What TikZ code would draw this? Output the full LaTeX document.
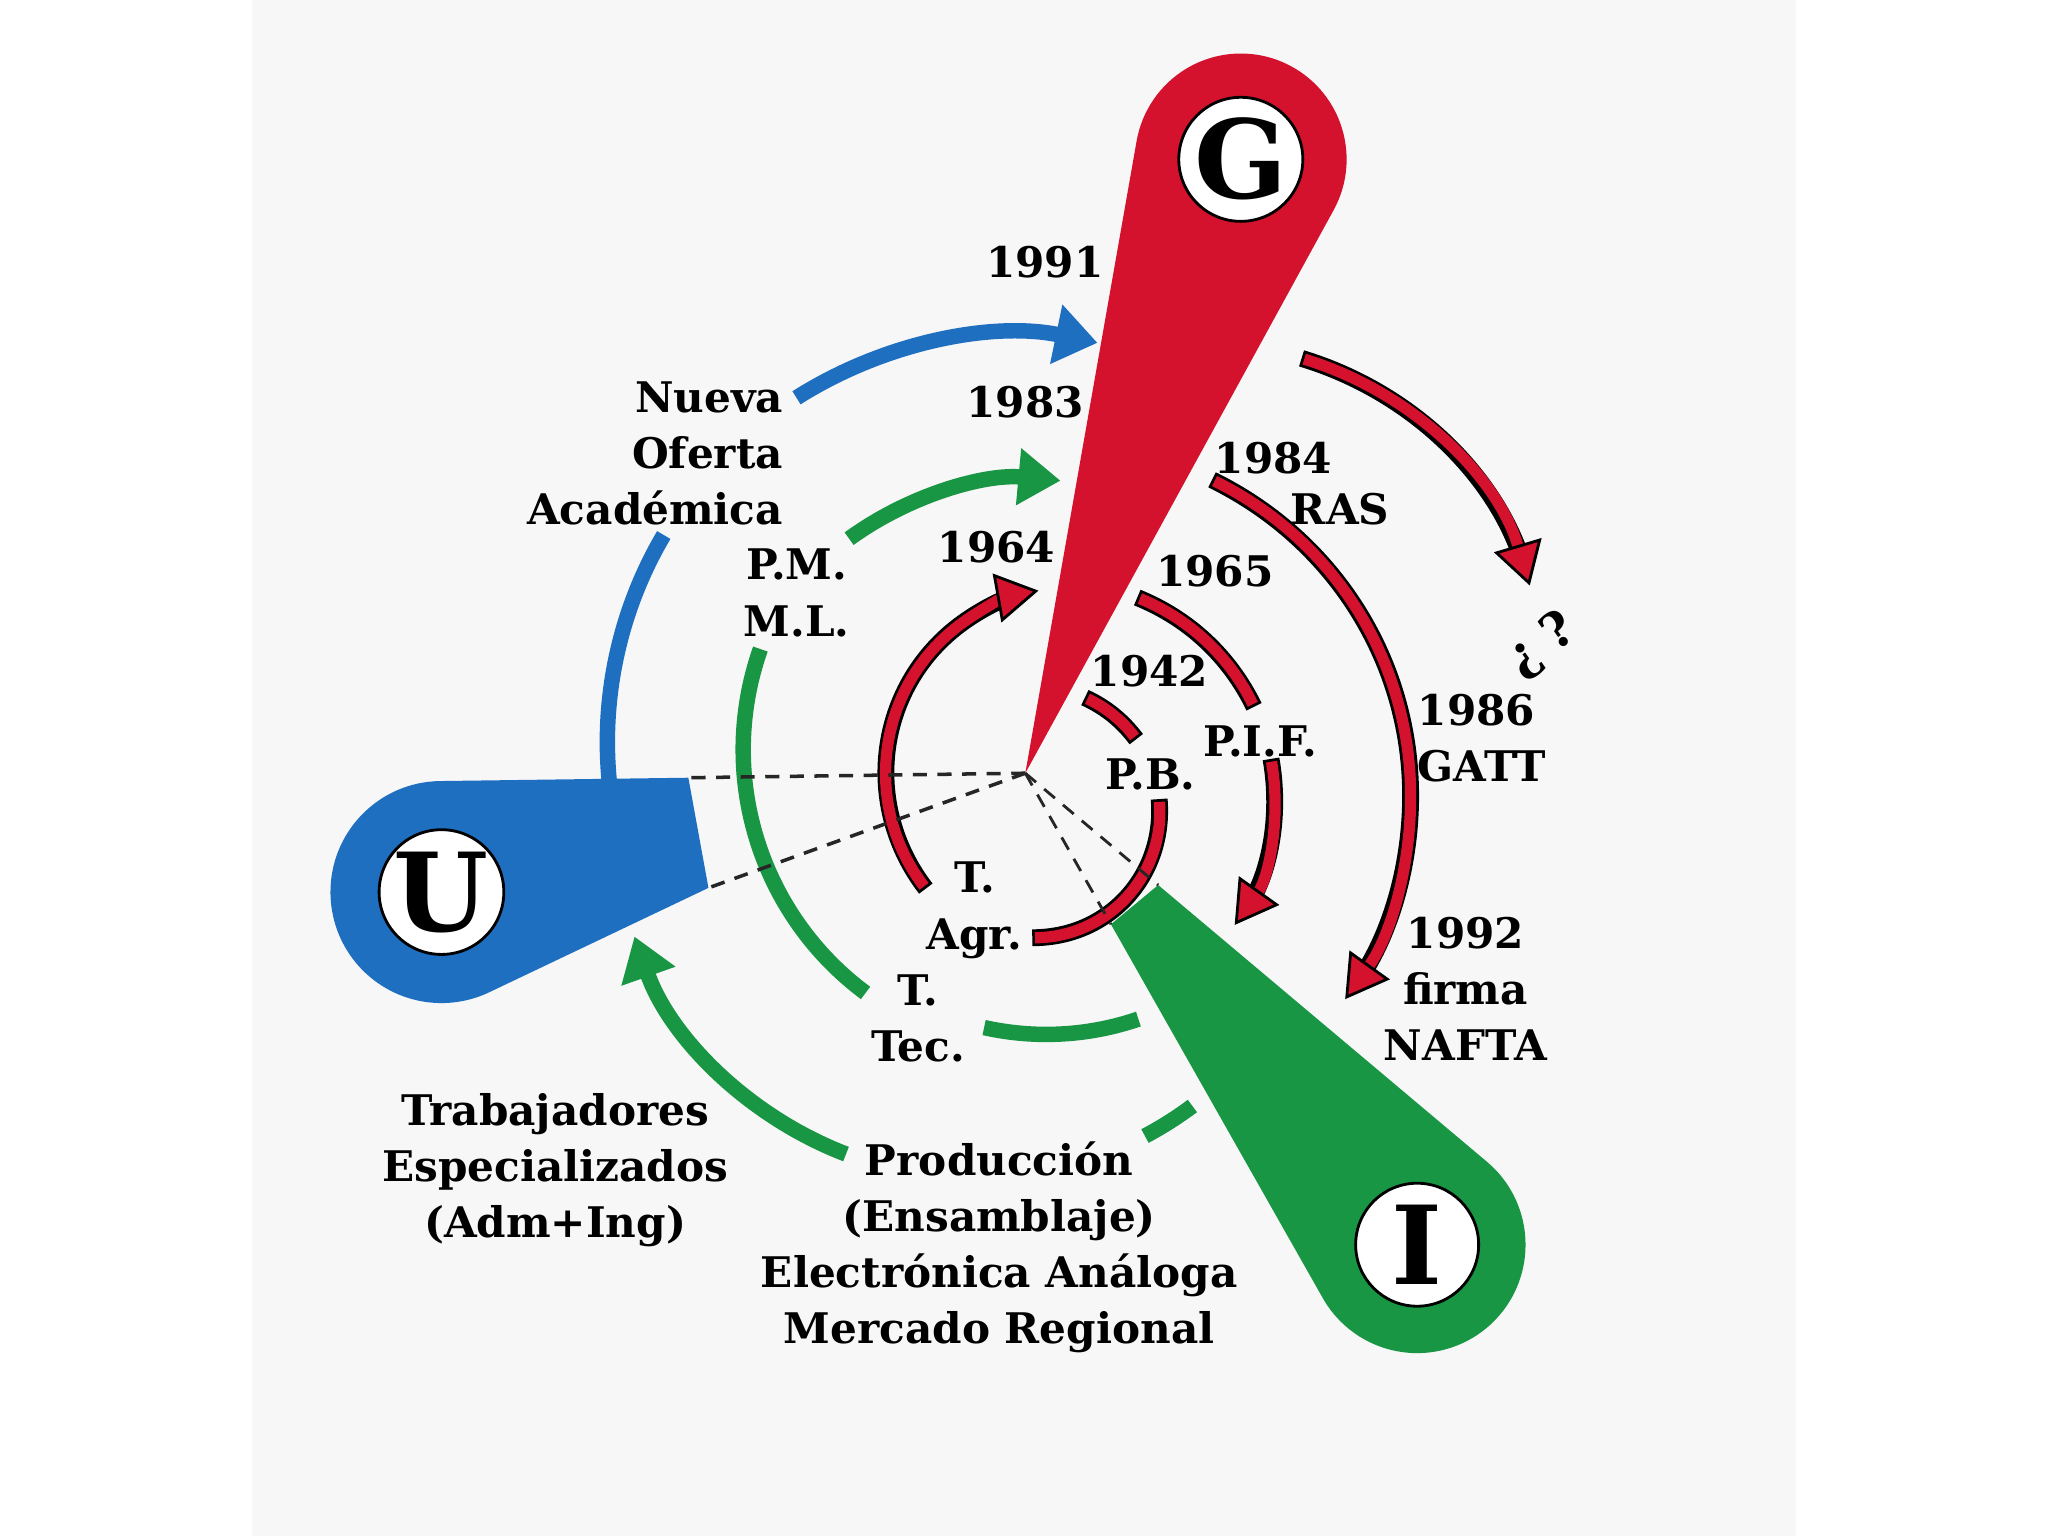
\documentclass[tikz,border=0pt]{standalone}
\usepackage{fontspec}
\setmainfont{DejaVu Serif}
\usetikzlibrary{arrows.meta,calc}

\definecolor{panel}{RGB}{247,247,248}
\definecolor{gred}{RGB}{212,18,45}
\definecolor{ublue}{RGB}{31,111,193}
\definecolor{igreen}{RGB}{24,150,68}

\begin{document}
\begin{tikzpicture}[x=0.013061cm, y=0.013061cm]
    \tikzset{
        Label/.style = {font=\bfseries\fontsize{12}{16}\selectfont, align=center, inner sep=0pt},
        Letter/.style = {circle, draw=black, line width=0.8pt, fill=white, inner sep=0pt,
            minimum size=1.23cm, font=\bfseries\fontsize{31}{31}\selectfont},
        BlueLine/.style = {ublue, line width=4.4pt},
        BlueArrow/.style = {BlueLine, -{Triangle[length=12pt,width=16.5pt]}},
        GreenLine/.style = {igreen, line width=4.4pt},
        GreenArrow/.style = {GreenLine, -{Triangle[length=12pt,width=15.5pt]}},
        RedLine/.style = {gred, line width=3.2pt,
            preaction={draw=black, line width=4.8pt, shorten <=-0.8pt, shorten >=-0.8pt}},
        RedArrow/.style = {gred, line width=3.2pt,
            -{Triangle[length=12pt,width=14pt,fill=gred,color=black,line width=0.8pt]},
            preaction={draw=black, line width=4.8pt, arrows=-, shorten <=-0.8pt, shorten >=6pt}},
        DashLine/.style = {black!85, line width=1pt, dash pattern=on 4pt off 3pt}
    }
    \fill[white] (0,0) rectangle (1568,1176);
    \fill[panel] (193,0) rectangle (1375,1176);
    \useasboundingbox (0,0) rectangle (1568,1176);

    \coordinate (O) at (785,584);
    \coordinate (cG) at (950,1054);
    \coordinate (cU) at (338,493);
    \coordinate (cI) at (1085,223);

    \coordinate (cB) at (777,608);
    \coordinate (cV1) at (790,571);
    \coordinate (cV2) at (801,602);
    \coordinate (cV3) at (747,551);
    \coordinate (cR1) at (820,584);
    \coordinate (cR2) at (792,554);
    \coordinate (cR3) at (810,564);
    \coordinate (cR4) at (812,567);
    \coordinate (cR5) at (924,654);

    \draw[BlueLine] ($(cB)+(186:312)$) arc[start angle=186, end angle=149.5, radius=312];
    \draw[BlueArrow] ($(cB)+(122.4:312)$) arc[start angle=122.4, end angle=78.3, radius=312];

    \draw[GreenArrow] ($(cV1)+(126:238)$) arc[start angle=126, end angle=84.7, radius=238];
    \draw[GreenLine] ($(cV2)+(160.6:232)$) arc[start angle=160.6, end angle=233.4, radius=232];
    \draw[GreenLine] ($(cV2)+(257.4:218)$) arc[start angle=257.4, end angle=288.9, radius=218];
    \draw[GreenLine] ($(cV3)+(-53.2:277)$) arc[start angle=-53.2, end angle=-62.1, radius=277];
    \draw[GreenArrow] ($(cV3)+(-111:277)$) arc[start angle=-111, end angle=-160.6, radius=277];

    \draw[RedArrow] ($(cR1)+(217.6:142)$) arc[start angle=217.6, end angle=100.1, radius=142];
    \draw[RedLine] ($(cR2)+(65:96)$) arc[start angle=65, end angle=37, radius=96];
    \draw[RedLine] ($(cR2)+(4.8:96)$) arc[start angle=4.8, end angle=-89.7, radius=96];
    \draw[RedLine] ($(cR3)+(67.8:166)$) arc[start angle=67.8, end angle=26, radius=166];
    \draw[RedArrow] ($(cR3)+(10:166)$) arc[start angle=10, end angle=-35.4, radius=166];
    \draw[RedArrow] ($(cR4)+(63.9:268)$) arc[start angle=63.9, end angle=-35.6, radius=268];
    \draw[RedArrow] ($(cR5)+(73.2:258)$) arc[start angle=73.2, end angle=16.6, radius=258];

    \fill[gred] (O) -- ($(cG)+(-28.7:81)$) arc[start angle=-28.7, end angle=170, radius=81] -- cycle;

    \coordinate (Ut) at ($(cU)+(90.8:85)$);
    \coordinate (Ua) at ($(O)!3.37cm!(Ut)$);
    \coordinate (Ub) at ($(O)+(199.9:258)$);
    \fill[ublue] (Ua) -- (Ut) arc[start angle=90.8, end angle=295.4, radius=85] -- (Ub) -- cycle;

    \coordinate (It) at ($(cI)+(49.9:83)$);
    \coordinate (Ib) at ($(cI)+(-150.45:83)$);
    \coordinate (Ia) at ($(O)!1.737cm!(It)$);
    \coordinate (Ic) at ($(O)!1.737cm!(Ib)$);
    \fill[igreen] (Ia) -- (It) arc[start angle=49.9, end angle=-150.45, radius=83] -- (Ic) -- cycle;

    \draw[DashLine] (O) -- (Ua);
    \draw[DashLine] (O) -- (Ub);
    \draw[DashLine, line width=0.8pt] (O) -- (Ia);
    \draw[DashLine, line width=0.8pt] (O) -- (Ic);

    \node[Letter] (G) at (cG) {G};
    \node[Letter, minimum size=1.2cm] (U) at (cU) {U};
    \node[Letter] (I) at (cI) {I};

    \node[Label] (y1991) at (800,975) {1991};
    \node[Label] (y1983) at (785,868) {1983};
    \node[Label] (y1984) at (975,825) {1984};
    \node[Label] (ras) at (1026,786) {RAS};
    \node[Label] (y1964) at (763,757) {1964};
    \node[Label] (y1965) at (930,739) {1965};
    \node[Label] (y1942) at (880,662) {1942};
    \node[Label] (pb) at (881,583) {P.B.};
    \node[Label] (pif) at (965,608) {P.I.F.};
    \node[Label, align=left, anchor=west] (gatt) at (1085,611) {1986\\GATT};
    \node[Label] (nafta) at (1122,419) {1992\\firma\\NAFTA};
    \node[Label, font=\bfseries\fontsize{14}{16}\selectfont, rotate=35] (quest) at (1181,682) {¿\kern4pt?};
    \node[Label, align=right, anchor=east] (oferta) at (600,829) {Nueva\\Oferta\\Académica};
    \node[Label] (pmml) at (610,722) {P.M.\\M.L.};
    \node[Label] (tagr) at (746,479) {T.\\Agr.};
    \node[Label] (ttec) at (703,396) {T.\\Tec.};
    \node[Label] (trab) at (425,280) {Trabajadores\\Especializados\\(Adm+Ing)};
    \node[Label] (prod) at (765,221) {Producción\\(Ensamblaje)\\Electrónica Análoga\\Mercado Regional};
\end{tikzpicture}
\end{document}
